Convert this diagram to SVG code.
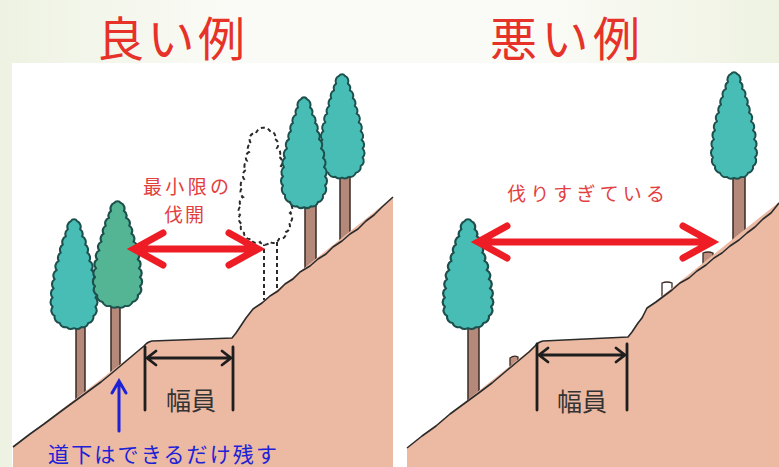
<svg xmlns="http://www.w3.org/2000/svg" width="779" height="467" viewBox="0 0 779 467">
  <defs>
    <linearGradient id="slideBg" x1="0" y1="0" x2="1" y2="0">
      <stop offset="0" stop-color="#eef2e2"/>
      <stop offset="0.3" stop-color="#fafbf6"/>
      <stop offset="0.7" stop-color="#fafbf6"/>
      <stop offset="1" stop-color="#eef2e1"/>
    </linearGradient>
    <!-- cypress crown, centred on x=0, top at y=0 -->
    <path id="crown" d="M-3,4 A3.5,3.5 0 0 1 3,4 A6,6 0 0 1 6,12 A6,6 0 0 1 8,19 A6,6 0 0 1 11,27 A6,6 0 0 1 13,35 A6,6 0 0 1 15,43 A6,6 0 0 1 17,52 A6,6 0 0 1 19,61 A6,6 0 0 1 20,70 A6,6 0 0 1 21,79 A6,6 0 0 1 21,88 A6,6 0 0 1 19,97 A6,6 0 0 1 14,104 A6,6 0 0 1 7,108 A6,6 0 0 1 0,109 A6,6 0 0 1 -7,108 A6,6 0 0 1 -14,104 A6,6 0 0 1 -19,97 A6,6 0 0 1 -21,88 A6,6 0 0 1 -21,79 A6,6 0 0 1 -20,70 A6,6 0 0 1 -19,61 A6,6 0 0 1 -17,52 A6,6 0 0 1 -15,43 A6,6 0 0 1 -13,35 A6,6 0 0 1 -11,27 A6,6 0 0 1 -8,19 A6,6 0 0 1 -6,12 A6,6 0 0 1 -3,4 Z"/>
    <!-- outline of the felled tree: rounder top, bulging lower crown -->
    <path id="crown-felled" d="M-8,6 A8,8 0 0 1 6,4 A6,6 0 0 1 11,12 A6,6 0 0 1 13,21 A6,6 0 0 1 15,30 A6,6 0 0 1 17,39 A6,6 0 0 1 19,48 A6,6 0 0 1 21,57 A6,6 0 0 1 24,66 A6,6 0 0 1 25,76 A6,6 0 0 1 26,86 A6,6 0 0 1 25,96 A6,6 0 0 1 22,105 A6,6 0 0 1 15,112 A6,6 0 0 1 6,115 A6,6 0 0 1 -4,115 A6,6 0 0 1 -13,112 A6,6 0 0 1 -20,106 A6,6 0 0 1 -22,97 A6,6 0 0 1 -24,88 A6,6 0 0 1 -23,79 A6,6 0 0 1 -21,70 A6,6 0 0 1 -22,61 A6,6 0 0 1 -20,52 A6,6 0 0 1 -18,43 A6,6 0 0 1 -17,34 A6,6 0 0 1 -15,25 A6,6 0 0 1 -13,16 A6,6 0 0 1 -8,6 Z"/>
  </defs>
  <style>
    .crown { fill: #47bdb5; stroke: #1d4f4c; stroke-width: 2; stroke-linejoin: round; }
    .crown-green { fill: #53b593; }
    .crown-gone { fill: #ffffff; stroke: #2a2a2a; stroke-width: 2; stroke-dasharray: 4 3; }
    .trunk { fill: #b5897a; stroke: #3a2a25; stroke-width: 1.5; }
    .stump { fill: #c09080; stroke: #3a2a25; stroke-width: 1.3; }
    .stump-gone { fill: #ffffff; stroke: #3a2a25; stroke-width: 1.3; }
    .ground { fill: #ecb9a3; }
    .surface { fill: none; stroke: #2b2b2b; stroke-width: 1.6; stroke-linejoin: round; }
    .gone-line { fill: none; stroke: #2a2a2a; stroke-width: 2; stroke-dasharray: 4 3; }
    .red-arrow { fill: none; stroke: #ee1c24; stroke-width: 7; stroke-linecap: round; stroke-linejoin: miter; }
    .dim { fill: none; stroke: #1e1e1e; stroke-width: 2.8; stroke-linecap: round; stroke-linejoin: miter; }
    .blue-arrow { fill: none; stroke: #1c22d6; stroke-width: 3; stroke-linecap: round; }
    .title { font-family: "Noto Sans CJK JP", "Noto Sans", sans-serif; font-size: 47px; fill: #e63228; text-anchor: middle; }
    .label-red { font-family: "Noto Sans CJK JP", "Noto Sans", sans-serif; font-size: 19px; fill: #e2403f; text-anchor: middle; }
    .label-dim { font-family: "Noto Sans CJK JP", "Noto Sans", sans-serif; font-size: 25px; fill: #333333; text-anchor: middle; }
    .label-blue { font-family: "Noto Sans CJK JP", "Noto Sans", sans-serif; font-size: 21px; fill: #1c22d6; }
  </style>

  <!-- slide background and white drawing area -->
  <g id="background">
    <rect x="0" y="0" width="779" height="467" fill="url(#slideBg)"/>
    <rect x="12" y="63" width="767" height="404" fill="#ffffff"/>
  </g>

  <g id="title-good">
    <text class="title" x="171" y="56" textLength="148">良い例</text>
  </g>
  <g id="title-bad">
    <text class="title" x="565" y="56" textLength="150">悪い例</text>
  </g>

  <!-- good example: minimal clearing -->
  <g id="panel-good">
    <g id="good-tree-1">
      <rect class="trunk" x="76" y="320" width="9" height="80"/>
      <use href="#crown" class="crown" transform="translate(74,217) scale(1.02,1.02)"/>
    </g>
    <g id="good-tree-2">
      <rect class="trunk" x="111" y="300" width="9" height="72"/>
      <use href="#crown" class="crown crown-green" transform="translate(117.5,199) scale(1.07,0.99)"/>
    </g>
    <g id="good-tree-removed">
      <path class="gone-line" d="M264,242 L264,300 M277,242 L277,292"/>
      <use href="#crown-felled" class="crown-gone" transform="translate(264,127)"/>
    </g>
    <g id="good-tree-4">
      <rect class="trunk" x="340" y="170" width="10" height="72"/>
      <use href="#crown" class="crown" transform="translate(342,72) scale(0.98,0.97)"/>
    </g>
    <g id="good-tree-3">
      <rect class="trunk" x="305" y="200" width="11" height="70"/>
      <use href="#crown" class="crown" transform="translate(304,95) scale(1,1.03)"/>
    </g>
    <g id="good-ground">
      <path class="ground" d="M13,467 L13,447 L144,346 Q147,342 152,341 L232,338 L240,327 L253,309 L393,197 L393,467 Z"/>
      <path class="surface" d="M13,447 L30,434 L44,424 L60,412 L75,401 L90,390 L101,382 L112,373 L125,362 L138,351 L144,346 Q147,342 152,341 L232,338 L236,333 L240,327 L246,318 L253,309 L262,303 L270,296 L278,291 L285,284 L293,279 L300,272 L310,266 L318,259 L326,254 L333,247 L342,241 L350,234 L358,229 L366,221 L374,215 L382,207 L393,197"/>
    </g>
    <g id="good-width">
      <path class="dim" d="M145,347 L145,410 M233,347 L233,410"/>
      <path class="dim" d="M156,351 L147,358 L156,365 M147,358 L231,358 M222,351 L231,358 L222,365"/>
      <text class="label-dim" x="191" y="410">幅員</text>
    </g>
    <g id="good-clearing">
      <path class="red-arrow" d="M163,233 L134,249 L163,265 M137,249 L255,249 M229,233 L258,249 L229,265"/>
      <text class="label-red" x="186" y="194" textLength="86">最小限の</text>
      <text class="label-red" x="184" y="222" textLength="40">伐開</text>
    </g>
    <g id="good-keep-below">
      <path class="blue-arrow" d="M119,431 L119,382 M112,393 L119,381 L126,393"/>
      <text class="label-blue" x="48" y="462" textLength="229">道下はできるだけ残す</text>
    </g>
  </g>

  <!-- bad example: too much felled -->
  <g id="panel-bad">
    <g id="bad-tree-1">
      <rect class="trunk" x="468" y="320" width="11" height="80"/>
      <use href="#crown" class="crown" transform="translate(468,217) scale(1.1,1.02)"/>
    </g>
    <g id="bad-tree-2">
      <rect class="trunk" x="733" y="170" width="12" height="70"/>
      <use href="#crown" class="crown" transform="translate(734,70) scale(1,0.99)"/>
    </g>
    <g id="bad-stumps">
      <path class="stump" d="M510,366 L510,358 Q514,355 518,357 L518,362 Z"/>
      <path class="stump-gone" d="M662,297 L662,283 Q667,281 672,283 L672,291 Z"/>
      <path class="stump" d="M703,264 L703,253 Q708,251 713,253 L713,258 Z"/>
    </g>
    <g id="bad-ground">
      <path class="ground" d="M407,467 L407,448 L535,346 Q538,342 543,341 L628,337 L632,332 L647,308 L779,202 L779,467 Z"/>
      <path class="surface" d="M407,448 L422,436 L436,426 L450,414 L465,403 L480,392 L492,383 L505,372 L517,362 L529,352 L535,346 Q538,342 543,341 L628,337 L632,332 L638,323 L642,318 L647,308 L656,302 L664,296 L672,290 L680,283 L689,278 L697,271 L706,265 L714,258 L722,253 L730,246 L739,240 L747,233 L755,227 L763,219 L771,213 L779,203"/>
    </g>
    <g id="bad-width">
      <path class="dim" d="M537,344 L537,410 M627,344 L627,410"/>
      <path class="dim" d="M548,348 L539,355 L548,362 M539,355 L625,355 M616,348 L625,355 L616,362"/>
      <text class="label-dim" x="582" y="411">幅員</text>
    </g>
    <g id="bad-clearing">
      <path class="red-arrow" d="M507,226 L478,242 L507,258 M481,242 L709,242 M683,226 L712,242 L683,258"/>
      <text class="label-red" x="586" y="201" textLength="158">伐りすぎている</text>
    </g>
  </g>
</svg>
